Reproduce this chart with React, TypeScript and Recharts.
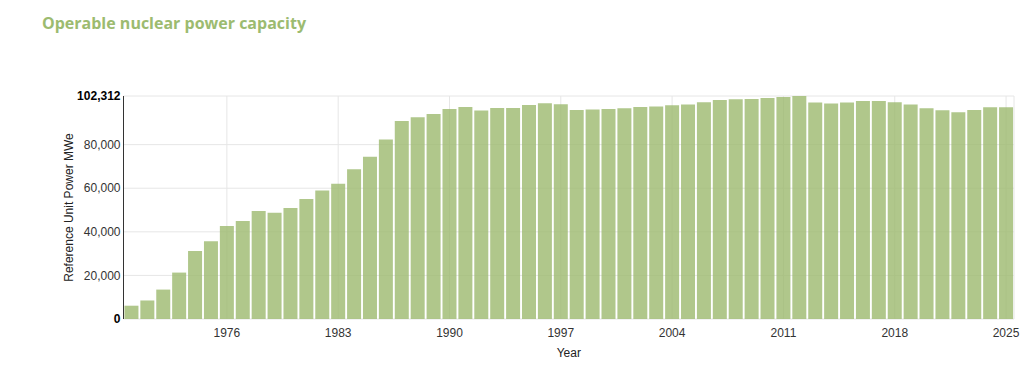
import { Bar, BarChart, CartesianGrid, XAxis, YAxis } from "recharts";

const years = [
  1970, 1971, 1972, 1973, 1974, 1975, 1976, 1977, 1978, 1979,
  1980, 1981, 1982, 1983, 1984, 1985, 1986, 1987, 1988, 1989,
  1990, 1991, 1992, 1993, 1994, 1995, 1996, 1997, 1998, 1999,
  2000, 2001, 2002, 2003, 2004, 2005, 2006, 2007, 2008, 2009,
  2010, 2011, 2012, 2013, 2014, 2015, 2016, 2017, 2018, 2019,
  2020, 2021, 2022, 2023, 2024, 2025,
];

// Reference unit power, MWe
const capacity = [
  6100, 8500, 13500, 21300, 31250, 35700, 42700, 45000, 49550, 48800,
  50900, 55050, 59000, 62050, 68750, 74400, 82350, 90850, 92550, 94100,
  96350, 97300, 95650, 96800, 96800, 98200, 98950, 98500, 95900, 96100,
  96350, 96700, 97300, 97450, 98050, 98400, 99450, 100500, 100800, 100950,
  101400, 101850, 102312, 99300, 98850, 99300, 100050, 100050, 99450, 98400,
  96700, 95750, 94850, 95900, 97150, 97150,
];

const xTicks = [1976, 1983, 1990, 1997, 2004, 2011, 2018, 2025];
const yTicks = [0, 20000, 40000, 60000, 80000, 102312];

const data = years.map((year, i) => ({ year, value: capacity[i] }));

const FONT = "'Liberation Sans', Arial, sans-serif";

function YTick({ x, y, payload }: any) {
  const edge = payload.value === 0 || payload.value === 102312;
  return (
    <text
      x={x}
      y={y}
      dy="0.35em"
      textAnchor="end"
      fontFamily={FONT}
      fontSize={12}
      fontWeight={edge ? 700 : 400}
      fill={edge ? "#000" : "#333"}
    >
      {payload.value.toLocaleString("en-US")}
    </text>
  );
}

function YLabel() {
  return (
    <text
      x={69}
      y={207.5}
      transform="rotate(-90 69 207.5)"
      textAnchor="middle"
      dominantBaseline="central"
      fontFamily={FONT}
      fontSize={12}
      fill="#222"
    >
      Reference Unit Power MWe
    </text>
  );
}

export default function App() {
  return (
    <div style={{ position: "absolute", left: 0, top: 0, width: 1033, height: 367, background: "#fff" }}>
      <div
        style={{
          position: "absolute",
          left: 42,
          top: 13,
          fontFamily: "'Open Sans', 'Noto Sans', sans-serif",
          fontWeight: 700,
          fontSize: 16,
          lineHeight: "20px",
          color: "#9cbb70",
          whiteSpace: "nowrap",
        }}
      >
        Operable nuclear power capacity
      </div>
      <div style={{ position: "absolute", left: 0, top: 0 }}>
        <BarChart
          width={1033}
          height={367}
          data={data}
          margin={{ top: 96, right: 19, bottom: 0, left: 0 }}
          barCategoryGap="6%"
        >
          <CartesianGrid stroke="#e6e6e6" />
          <XAxis
            dataKey="year"
            ticks={xTicks}
            interval={0}
            height={48}
            axisLine={false}
            tickLine={false}
            tickSize={7}
            tick={{ fontFamily: FONT, fontSize: 12, fill: "#333" }}
            label={{
              value: "Year",
              position: "insideBottom",
              offset: 10,
              style: { fontFamily: FONT, fontSize: 12, fill: "#222" },
            }}
          />
          <YAxis
            width={123.5}
            domain={[0, 102312]}
            ticks={yTicks}
            interval={0}
            axisLine={{ stroke: "#333" }}
            tickLine={false}
            tickSize={1}
            tickMargin={2}
            tick={<YTick />}
            label={<YLabel />}
          />
          <Bar dataKey="value" fill="#9cb96e" fillOpacity={0.8} isAnimationActive={false} />
        </BarChart>
      </div>
    </div>
  );
}
